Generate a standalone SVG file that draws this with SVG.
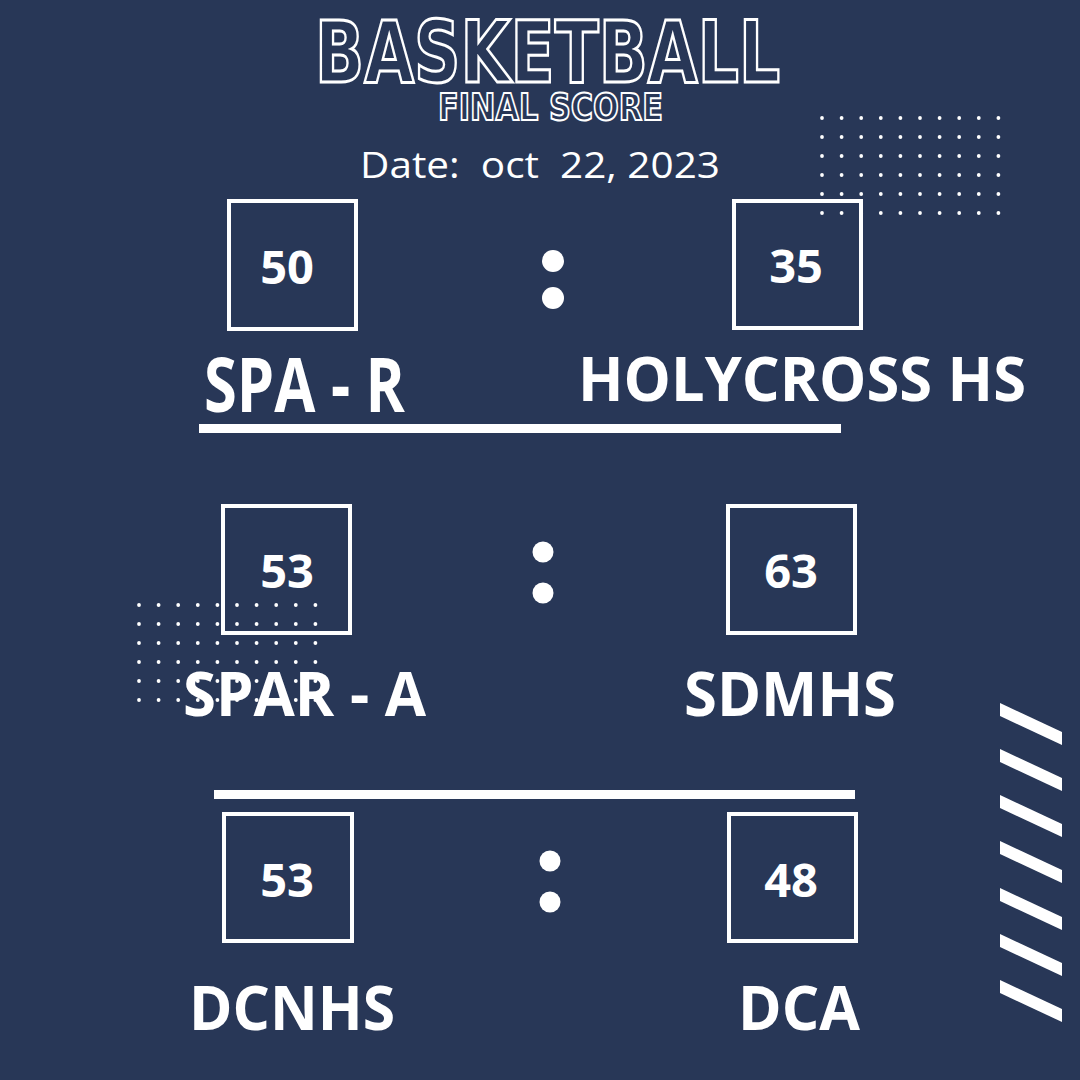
<svg xmlns="http://www.w3.org/2000/svg" width="1080" height="1080" viewBox="0 0 1080 1080">
<style>
.bg{fill:#283757}
.box{fill:none;stroke:#ffffff;stroke-width:4}
.num{font-family:"Open Sans","Liberation Sans",sans-serif;font-weight:700;font-size:47px;fill:#ffffff;text-anchor:middle}
.team{font-family:"Open Sans","Liberation Sans",sans-serif;font-weight:700;fill:#ffffff}
.dot{fill:#ffffff}
.sep{fill:#ffffff}
.title{font-family:"DejaVu Sans","Liberation Sans",sans-serif;font-weight:700;fill:none;stroke:#ffffff}
.date{font-family:"Open Sans","Liberation Sans",sans-serif;font-weight:400;font-size:37px;fill:#ffffff}
.gd{fill:#ffffff}
</style>
<defs>
<g id="dotrow">
<circle cx="0" cy="0" r="1.9" class="gd"/>
<circle cx="19.6" cy="0" r="1.9" class="gd"/>
<circle cx="39.2" cy="0" r="1.9" class="gd"/>
<circle cx="58.8" cy="0" r="1.9" class="gd"/>
<circle cx="78.4" cy="0" r="1.9" class="gd"/>
<circle cx="98" cy="0" r="1.9" class="gd"/>
<circle cx="117.6" cy="0" r="1.9" class="gd"/>
<circle cx="137.2" cy="0" r="1.9" class="gd"/>
<circle cx="156.8" cy="0" r="1.9" class="gd"/>
<circle cx="176.4" cy="0" r="1.9" class="gd"/>
</g>
<g id="dotgrid">
<use href="#dotrow" y="0"/>
<use href="#dotrow" y="19"/>
<use href="#dotrow" y="38"/>
<use href="#dotrow" y="57"/>
<use href="#dotrow" y="76"/>
<use href="#dotrow" y="95"/>
</g>
<polygon id="stripe" points="1000,0 1062,29 1062,42 1000,13" fill="#ffffff"/>
</defs>
<rect class="bg" x="0" y="0" width="1080" height="1080"/>

<g id="title">
<text class="title" x="315" y="82" font-size="86" stroke-width="3" textLength="465" lengthAdjust="spacingAndGlyphs">BASKETBALL</text>
<text class="title" x="438" y="120" font-size="38" stroke-width="2" textLength="225" lengthAdjust="spacingAndGlyphs">FINAL SCORE</text>
<text class="date" x="360" y="178" xml:space="preserve" textLength="360" lengthAdjust="spacingAndGlyphs">Date:  oct  22, 2023</text>
</g>

<g id="decor-dots-top">
<use href="#dotgrid" x="822" y="118"/>
</g>

<g id="match1-home">
<rect class="box" x="229" y="201" width="127" height="128"/>
<text class="num" x="287" y="284">50</text>
<text class="team" x="204" y="412" font-size="75" textLength="201" lengthAdjust="spacingAndGlyphs">SPA - R</text>
</g>
<g id="match1-colon">
<circle class="dot" cx="553" cy="261" r="11"/>
<circle class="dot" cx="553" cy="298" r="11"/>
</g>
<g id="match1-away">
<rect class="box" x="734" y="201" width="127" height="127"/>
<text class="num" x="796" y="283">35</text>
<text class="team" x="578" y="401" font-size="61" textLength="448" lengthAdjust="spacingAndGlyphs">HOLYCROSS HS</text>
</g>

<g id="match2-home">
<rect class="box" x="223" y="506" width="127" height="127"/>
<text class="num" x="287" y="588">53</text>
<text class="team" x="183" y="716" font-size="61" textLength="243" lengthAdjust="spacingAndGlyphs">SPAR - A</text>
</g>
<g id="match2-colon">
<circle class="dot" cx="543" cy="552" r="10.5"/>
<circle class="dot" cx="543" cy="593" r="10.5"/>
</g>
<g id="match2-away">
<rect class="box" x="728" y="506" width="127" height="127"/>
<text class="num" x="791" y="588">63</text>
<text class="team" x="684" y="716" font-size="61" textLength="212" lengthAdjust="spacingAndGlyphs">SDMHS</text>
</g>

<g id="decor-dots-left">
<use href="#dotgrid" x="139" y="605"/>
</g>

<g id="match3-home">
<rect class="box" x="224" y="814" width="128" height="127"/>
<text class="num" x="287" y="897">53</text>
<text class="team" x="189" y="1030" font-size="60" textLength="206" lengthAdjust="spacingAndGlyphs">DCNHS</text>
</g>
<g id="match3-colon">
<circle class="dot" cx="550" cy="861" r="10.5"/>
<circle class="dot" cx="550" cy="902" r="10.5"/>
</g>
<g id="match3-away">
<rect class="box" x="729" y="814" width="127" height="127"/>
<text class="num" x="791" y="897">48</text>
<text class="team" x="738" y="1030" font-size="60" textLength="122" lengthAdjust="spacingAndGlyphs">DCA</text>
</g>

<g id="connectors">
<rect class="sep" x="199" y="424" width="642" height="9"/>
<rect class="sep" x="214" y="790" width="641" height="9"/>
</g>

<g id="decor-stripes">
<use href="#stripe" y="703"/>
<use href="#stripe" y="749"/>
<use href="#stripe" y="795"/>
<use href="#stripe" y="841"/>
<use href="#stripe" y="888"/>
<use href="#stripe" y="934"/>
<use href="#stripe" y="980"/>
</g>
</svg>
